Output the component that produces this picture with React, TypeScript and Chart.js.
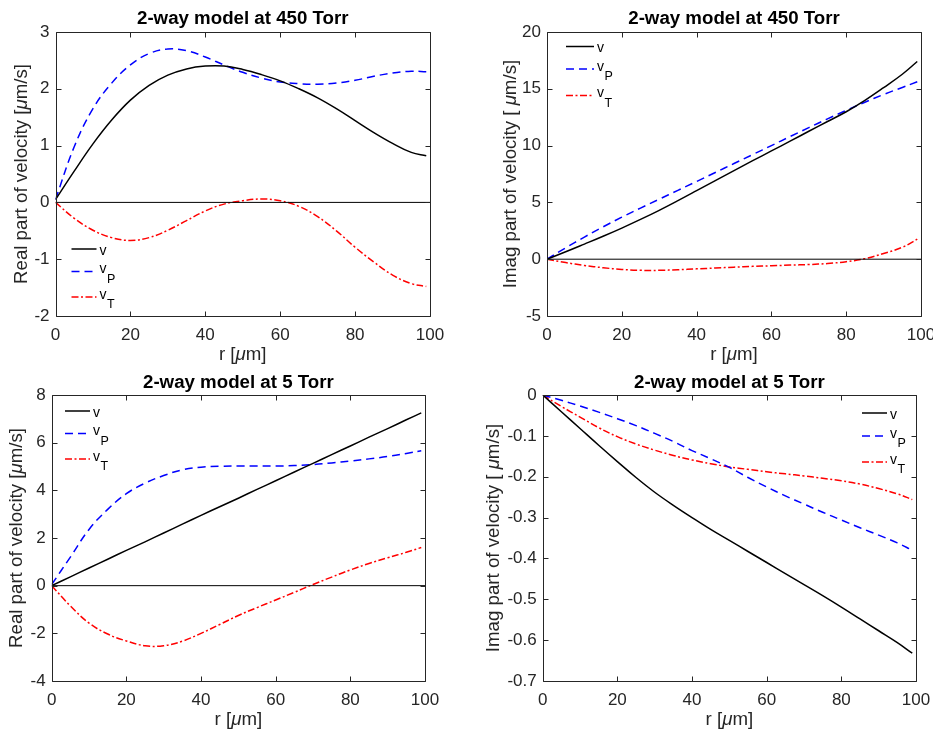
import React, { useEffect, useRef } from "react";
import { Chart, registerables } from "chart.js";
Chart.register(...registerables);

// ---------- data ----------
const r = [0, 5, 10, 15, 20, 25, 30, 35, 40, 45, 50, 55, 60, 65, 70, 75, 80, 85, 90, 95, 99];

// 450 Torr, real part
const re450_v = [0.05, 0.55, 1.03, 1.45, 1.8, 2.06, 2.24, 2.35, 2.4, 2.4, 2.34, 2.25, 2.14, 2.0, 1.84, 1.65, 1.44, 1.23, 1.04, 0.88, 0.82];
const re450_vP = [0.05, 0.98, 1.65, 2.1, 2.42, 2.62, 2.7, 2.67, 2.56, 2.42, 2.29, 2.19, 2.12, 2.09, 2.08, 2.1, 2.15, 2.22, 2.28, 2.31, 2.3];
const re450_vT = [0, -0.28, -0.49, -0.62, -0.67, -0.62, -0.49, -0.32, -0.15, -0.03, 0.03, 0.06, 0.03, -0.07, -0.25, -0.5, -0.79, -1.05, -1.28, -1.43, -1.48];

// 450 Torr, imaginary part
const im450_v = [0, 0.65, 1.33, 2.02, 2.74, 3.5, 4.3, 5.15, 6.03, 6.92, 7.8, 8.67, 9.53, 10.39, 11.26, 12.12, 12.98, 13.98, 15.1, 16.28, 17.4];
const im450_vP = [0, 1.0, 1.95, 2.85, 3.7, 4.5, 5.28, 6.06, 6.84, 7.63, 8.42, 9.21, 10.0, 10.8, 11.58, 12.35, 13.1, 13.82, 14.5, 15.12, 15.62];
const im450_vT = [0, -0.3, -0.55, -0.75, -0.9, -0.98, -0.98, -0.93, -0.85, -0.78, -0.7, -0.63, -0.58, -0.52, -0.47, -0.38, -0.22, 0.05, 0.5, 1.05, 1.76];

// 5 Torr, real part
const re5_v = [0, 0.37, 0.74, 1.11, 1.48, 1.84, 2.21, 2.58, 2.95, 3.31, 3.67, 4.04, 4.4, 4.77, 5.13, 5.5, 5.86, 6.23, 6.59, 6.96, 7.25];
const re5_vP = [0.05, 1.2, 2.36, 3.2, 3.86, 4.3, 4.62, 4.86, 4.97, 5.01, 5.02, 5.02, 5.02, 5.04, 5.08, 5.15, 5.23, 5.32, 5.42, 5.55, 5.66];
const re5_vT = [0, -0.85, -1.57, -2.03, -2.32, -2.52, -2.52, -2.33, -2.0, -1.63, -1.25, -0.92, -0.6, -0.28, 0.05, 0.36, 0.66, 0.93, 1.17, 1.4, 1.6];

// 5 Torr, imaginary part
const im5_v = [0, -0.041, -0.082, -0.123, -0.163, -0.202, -0.238, -0.27, -0.3, -0.329, -0.356, -0.383, -0.41, -0.437, -0.464, -0.491, -0.519, -0.548, -0.577, -0.606, -0.632];
const im5_vP = [0, -0.013, -0.027, -0.042, -0.058, -0.075, -0.094, -0.114, -0.136, -0.156, -0.177, -0.202, -0.225, -0.247, -0.267, -0.287, -0.306, -0.325, -0.343, -0.362, -0.38];
const im5_vT = [0, -0.028, -0.054, -0.08, -0.102, -0.12, -0.135, -0.148, -0.159, -0.168, -0.176, -0.182, -0.188, -0.193, -0.198, -0.204, -0.21, -0.218, -0.229, -0.242, -0.256];

const zeroX = [0, 100];
const zeroY = [0, 0];

// tick labels
const xTicks = [0, 20, 40, 60, 80, 100];
const yTicksRe450 = [-2, -1, 0, 1, 2, 3];
const yTicksIm450 = [-5, 0, 5, 10, 15, 20];
const yTicksRe5 = [-4, -2, 0, 2, 4, 6, 8];
const yTicksIm5 = [-0.7, -0.6, -0.5, -0.4, -0.3, -0.2, -0.1, 0];

// series labels (base, subscript)
const seriesNames: [string, string][] = [["v", ""], ["v", "P"], ["v", "T"]];

// ---------- styling ----------
const FONT = '"Liberation Sans", Arial, Helvetica, sans-serif';
const AXIS_COLOR = "#262626";
const seriesStyles = [
  { color: "#000000", dash: [] as number[] },
  { color: "#0000ff", dash: [8, 5] },
  { color: "#ff0000", dash: [7, 2.5, 2, 2.5] },
];

type Part = { text: string; italic?: boolean };

function drawRich(ctx: CanvasRenderingContext2D, parts: Part[], size: number, cx: number, cy: number) {
  const fonts = parts.map((p) => `${p.italic ? "italic " : ""}${size}px ${FONT}`);
  let total = 0;
  const widths = parts.map((p, i) => {
    ctx.font = fonts[i];
    const w = ctx.measureText(p.text).width;
    total += w;
    return w;
  });
  let x = cx - total / 2;
  ctx.textAlign = "left";
  ctx.textBaseline = "middle";
  parts.forEach((p, i) => {
    ctx.font = fonts[i];
    ctx.fillText(p.text, x, cy);
    x += widths[i];
  });
}

type PanelSpec = {
  left: number;
  top: number;
  width: number;
  height: number;
  area: { l: number; t: number; r: number; b: number };
  yTicks: number[];
  title: string;
  yLabel: Part[];
  titleY: number;
  xLabelY: number;
  yLabelX: number;
  legend: { x0: number; x1: number; ys: number[] };
  series: number[][];
};

const xLabel: Part[] = [{ text: "r [" }, { text: "\u03bc", italic: true }, { text: "m]" }];

const panels: PanelSpec[] = [
  {
    left: 0, top: 0, width: 466, height: 366,
    area: { l: 55.5, t: 32, r: 430, b: 316 },
    yTicks: yTicksRe450,
    title: "2-way model at 450 Torr",
    yLabel: [{ text: "Real part of velocity [" }, { text: "\u03bc", italic: true }, { text: "m/s]" }],
    titleY: 19, xLabelY: 355, yLabelX: 22,
    legend: { x0: 71.5, x1: 96.5, ys: [249, 271.5, 297] },
    series: [re450_v, re450_vP, re450_vT],
  },
  {
    left: 466, top: 0, width: 467, height: 366,
    area: { l: 81, t: 32, r: 455, b: 316 },
    yTicks: yTicksIm450,
    title: "2-way model at 450 Torr",
    yLabel: [{ text: "Imag part of velocity [ " }, { text: "\u03bc", italic: true }, { text: "m/s]" }],
    titleY: 19, xLabelY: 355, yLabelX: 45,
    legend: { x0: 100, x1: 128, ys: [46.5, 69, 95.5] },
    series: [im450_v, im450_vP, im450_vT],
  },
  {
    left: 0, top: 366, width: 466, height: 365,
    area: { l: 51.7, t: 29, r: 425, b: 315 },
    yTicks: yTicksRe5,
    title: "2-way model at 5 Torr",
    yLabel: [{ text: "Real part of velocity [" }, { text: "\u03bc", italic: true }, { text: "m/s]" }],
    titleY: 17, xLabelY: 354, yLabelX: 17,
    legend: { x0: 65, x1: 90, ys: [45, 67.5, 93] },
    series: [re5_v, re5_vP, re5_vT],
  },
  {
    left: 466, top: 366, width: 467, height: 365,
    area: { l: 76.7, t: 29, r: 450, b: 315 },
    yTicks: yTicksIm5,
    title: "2-way model at 5 Torr",
    yLabel: [{ text: "Imag part of velocity [ " }, { text: "\u03bc", italic: true }, { text: "m/s]" }],
    titleY: 17, xLabelY: 354, yLabelX: 28,
    legend: { x0: 396, x1: 421, ys: [47, 70, 96] },
    series: [im5_v, im5_vP, im5_vT],
  },
];

function makeChart(canvas: HTMLCanvasElement, spec: PanelSpec) {
  const { area } = spec;
  const decor = {
    id: "matlabDecor",
    afterDraw(chart: any) {
      const ctx: CanvasRenderingContext2D = chart.ctx;
      const ca = chart.chartArea;
      const xs = chart.scales.x;
      const ys = chart.scales.y;
      ctx.save();
      // box + inward ticks
      ctx.strokeStyle = AXIS_COLOR;
      ctx.lineWidth = 1;
      const L = Math.round(ca.left) + 0.5;
      const R = Math.round(ca.right) + 0.5;
      const T = Math.round(ca.top) + 0.5;
      const B = Math.round(ca.bottom) + 0.5;
      ctx.beginPath();
      ctx.rect(L, T, R - L, B - T);
      const tl = 5;
      xs.ticks.forEach((t: any) => {
        const px = Math.round(xs.getPixelForValue(t.value)) + 0.5;
        ctx.moveTo(px, B); ctx.lineTo(px, B - tl);
        ctx.moveTo(px, T); ctx.lineTo(px, T + tl);
      });
      ys.ticks.forEach((t: any) => {
        const py = Math.round(ys.getPixelForValue(t.value)) + 0.5;
        ctx.moveTo(L, py); ctx.lineTo(L + tl, py);
        ctx.moveTo(R, py); ctx.lineTo(R - tl, py);
      });
      ctx.stroke();

      // title
      ctx.fillStyle = "#000";
      ctx.font = `bold 18.7px ${FONT}`;
      ctx.textAlign = "center";
      ctx.textBaseline = "middle";
      ctx.fillText(spec.title, (ca.left + ca.right) / 2, spec.titleY);

      // axis labels
      ctx.fillStyle = AXIS_COLOR;
      drawRich(ctx, xLabel, 18.7, (ca.left + ca.right) / 2, spec.xLabelY);
      ctx.save();
      ctx.translate(spec.yLabelX, (ca.top + ca.bottom) / 2);
      ctx.rotate(-Math.PI / 2);
      drawRich(ctx, spec.yLabel, 18.7, 0, 0);
      ctx.restore();

      // legend
      const lg = spec.legend;
      seriesNames.forEach((nm, i) => {
        const st = seriesStyles[i];
        const y = lg.ys[i];
        ctx.save();
        ctx.strokeStyle = st.color;
        ctx.lineWidth = 1.5;
        ctx.setLineDash(st.dash);
        ctx.beginPath();
        ctx.moveTo(lg.x0, y);
        ctx.lineTo(lg.x1, y);
        ctx.stroke();
        ctx.restore();
        ctx.fillStyle = "#000";
        ctx.textAlign = "left";
        ctx.textBaseline = "alphabetic";
        ctx.font = `14px ${FONT}`;
        const tx = lg.x1 + 3;
        if (nm[1]) {
          ctx.fillText(nm[0], tx, y + 1.5);
          const w = ctx.measureText(nm[0]).width;
          ctx.font = `12.5px ${FONT}`;
          ctx.fillText(nm[1], tx + w + 0.5, y + 11);
        } else {
          ctx.fillText(nm[0], tx, y + 5.5);
        }
      });
      ctx.restore();
    },
  };

  const datasets: any[] = [
    {
      label: "zero",
      data: zeroX.map((x, i) => ({ x, y: zeroY[i] })),
      borderColor: "#000",
      borderWidth: 1,
      pointRadius: 0,
      tension: 0,
    },
  ];
  spec.series.forEach((vals, i) => {
    datasets.push({
      label: seriesNames[i].join(""),
      data: r.map((x, j) => ({ x, y: vals[j] })),
      borderColor: seriesStyles[i].color,
      borderDash: seriesStyles[i].dash,
      borderWidth: 1.5,
      pointRadius: 0,
      tension: 0.4,
    });
  });

  const yMin = spec.yTicks[0];
  const yMax = spec.yTicks[spec.yTicks.length - 1];
  const leftW = area.l;
  const bottomH = spec.height - area.b;

  return new Chart(canvas, {
    type: "line",
    data: { datasets },
    options: {
      responsive: false,
      animation: false,
      devicePixelRatio: 1,
      layout: {
        padding: {
          left: 0,
          top: area.t,
          right: spec.width - area.r,
          bottom: 0,
        },
      },
      plugins: {
        legend: { display: false },
        tooltip: { enabled: false },
        title: { display: false },
      },
      scales: {
        x: {
          type: "linear",
          min: 0,
          max: 100,
          afterBuildTicks: (s: any) => {
            s.ticks = xTicks.map((v) => ({ value: v }));
          },
          afterFit: (s: any) => {
            s.height = bottomH;
            s.paddingLeft = 0;
            s.paddingRight = 0;
          },
          grid: { display: false, drawTicks: false, tickLength: 0 },
          border: { display: false },
          ticks: {
            autoSkip: false,
            maxRotation: 0,
            padding: 9,
            color: AXIS_COLOR,
            font: { family: FONT, size: 17 },
          },
        },
        y: {
          type: "linear",
          min: yMin,
          max: yMax,
          afterBuildTicks: (s: any) => {
            s.ticks = spec.yTicks.map((v) => ({ value: v }));
          },
          afterFit: (s: any) => {
            s.width = leftW;
            s.paddingTop = 0;
            s.paddingBottom = 0;
          },
          grid: { display: false, drawTicks: false, tickLength: 0 },
          border: { display: false },
          ticks: {
            autoSkip: false,
            padding: 6,
            color: AXIS_COLOR,
            font: { family: FONT, size: 17 },
            callback: (v: any) => String(Math.round(Number(v) * 10) / 10),
          },
        },
      },
    } as any,
    plugins: [decor],
  });
}

function Panel({ spec }: { spec: PanelSpec }) {
  const ref = useRef<HTMLCanvasElement | null>(null);
  useEffect(() => {
    if (!ref.current) return;
    const c = makeChart(ref.current, spec);
    return () => c.destroy();
  }, [spec]);
  return (
    <canvas
      ref={ref}
      width={spec.width}
      height={spec.height}
      style={{ position: "absolute", left: spec.left, top: spec.top, width: spec.width, height: spec.height }}
    />
  );
}

export default function App() {
  return (
    <div style={{ position: "absolute", left: 0, top: 0, width: 933, height: 731, background: "#fff", overflow: "hidden" }}>
      {panels.map((p, i) => (
        <Panel key={i} spec={p} />
      ))}
    </div>
  );
}
